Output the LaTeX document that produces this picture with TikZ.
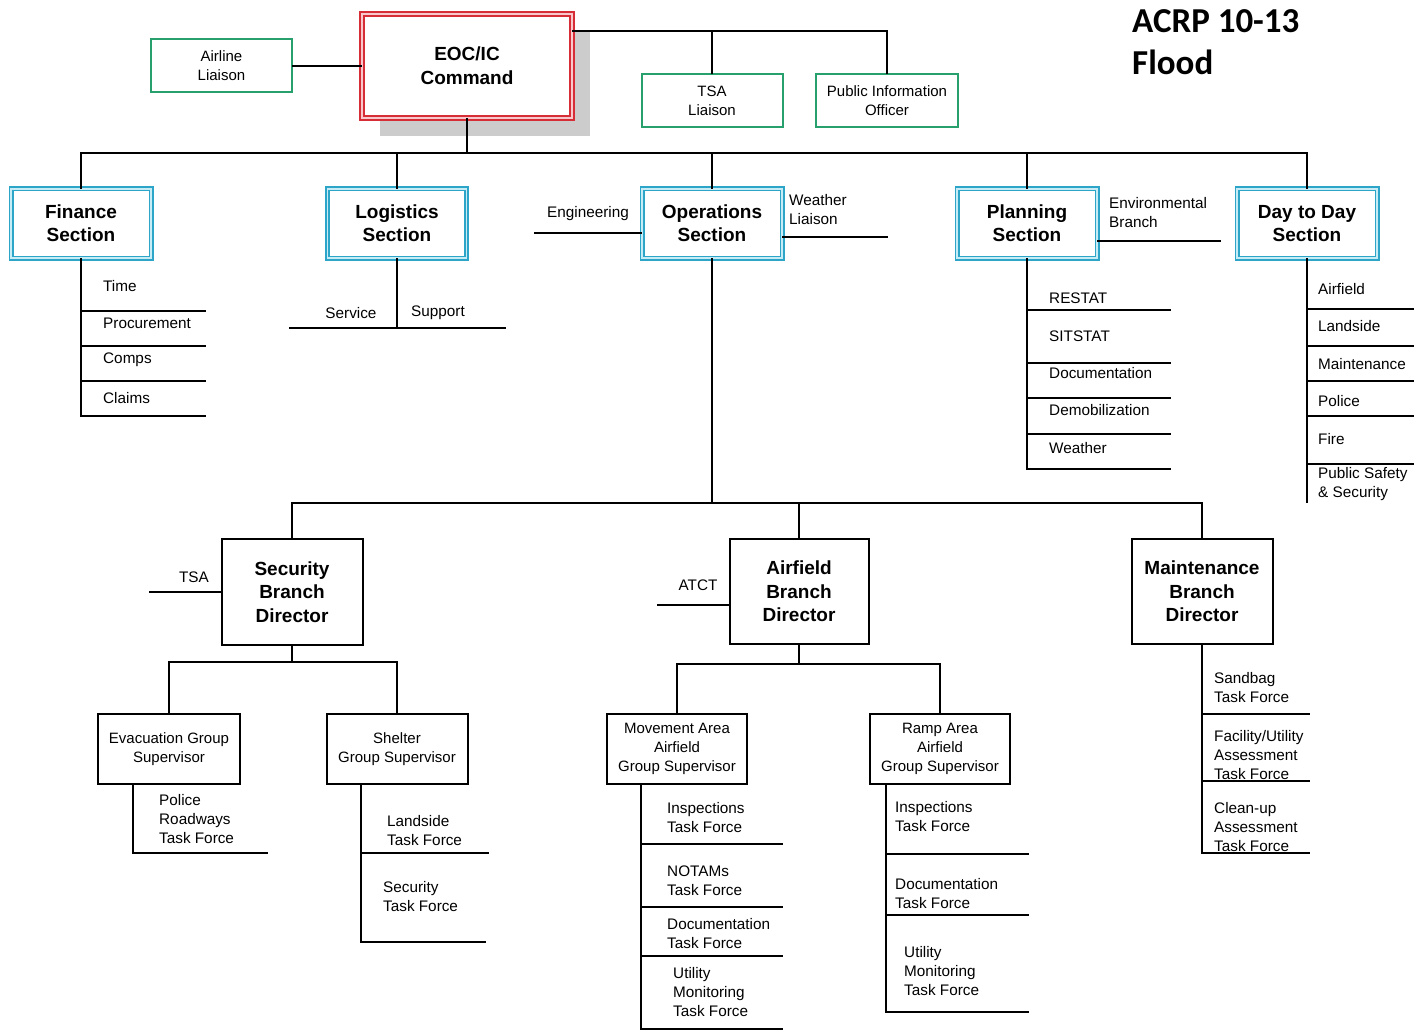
\documentclass[tikz,border=0pt]{standalone}
\usepackage{fontspec}
\setmainfont{Liberation Sans}
\newfontfamily\titlefont{Carlito}
\definecolor{secC}{RGB}{45,165,200}
\definecolor{secL}{RGB}{200,236,245}
\definecolor{redC}{RGB}{215,45,55}
\definecolor{redL}{RGB}{248,200,205}
\definecolor{grnC}{RGB}{40,160,110}
\definecolor{dropgray}{RGB}{204,204,204}
\tikzset{
  ln/.style={line width=2pt, line cap=rect},
  secbox/.style={draw=secC, double=secL, line width=1.6pt, double distance=1.8pt,
    fill=white, minimum width=140pt, minimum height=69pt, inner sep=0pt,
    align=center, font=\bfseries\fontsize{19}{23}\selectfont},
  cmdbox/.style={draw=redC, double=redL, line width=1.8pt, double distance=2pt,
    fill=white, minimum width=210pt, minimum height=104pt, inner sep=0pt,
    align=center, font=\bfseries\fontsize{19}{24}\selectfont},
  liaison/.style={draw=grnC, line width=2pt, fill=white, minimum width=141pt,
    minimum height=53pt, inner sep=0pt, align=center, font=\fontsize{15}{19}\selectfont},
  brbox/.style={draw, line width=2pt, fill=white, minimum width=141pt,
    minimum height=106pt, inner sep=0pt, align=center,
    font=\bfseries\fontsize{19}{23.5}\selectfont},
  grpbox/.style={draw, line width=2pt, fill=white, minimum width=141pt,
    minimum height=70pt, inner sep=0pt, align=center, font=\fontsize{15}{19}\selectfont},
  item/.style={anchor=west, inner sep=0pt, align=left, font=\fontsize{15.3}{19}\selectfont},
  citem/.style={item, anchor=center, align=center},
}
\begin{document}
\begin{tikzpicture}[x=1pt,y=-1pt]
\useasboundingbox (0,0) rectangle (1421,1035);

% title
\node[anchor=west, inner sep=0pt, align=left, font=\titlefont\bfseries\fontsize{35}{42}\selectfont]
  (title) at (1132,42) {ACRP 10-13\\Flood};

% command level, with its drop shadow
\fill[dropgray] (380,32) rectangle (590,136);
\node[cmdbox] (eoc) at (467,66) {EOC/IC\\Command};
\node[liaison] (air) at (221.5,66) {Airline\\Liaison};
\node[liaison] (tsa) at (712,100.5) {TSA\\Liaison};
\node[liaison, minimum width=142pt] (pio) at (887,100.5) {Public Information\\Officer};

\coordinate (topbus) at (572,31);
\coordinate (mainbus) at (467,153);

\draw[ln] (air.east) -- (air.east -| eoc.west);
\draw[ln] (eoc.east |- topbus) -- (pio.north |- topbus) -- (pio.north);
\draw[ln] (tsa.north |- topbus) -- (tsa.north);
\draw[ln] (eoc.south) -- (mainbus);

% sections
\node[secbox] (fin) at (81,223.5) {Finance\\Section};
\node[secbox, minimum width=139pt] (log) at (397,223.5) {Logistics\\Section};
\node[secbox] (ops) at (712,223.5) {Operations\\Section};
\node[secbox] (plan) at (1027,223.5) {Planning\\Section};
\node[secbox] (day) at (1307,223.5) {Day to Day\\Section};

\draw[ln] (fin.north |- mainbus) -- (day.north |- mainbus);
\foreach \s in {fin,log,ops,plan,day}
  \draw[ln] (\s.north |- mainbus) -- (\s.north);

% finance units
\node[item] (time) at (103,286) {Time};
\node[item] (proc) at (103,323) {Procurement};
\node[item] (comps) at (103,360) {Comps};
\node[item] (claims) at (103,398) {Claims};
\foreach \y [count=\i] in {311,346,381,416}
  \coordinate (fin\i) at (205,\y);
\draw[ln] (fin.south) -- (fin4 -| fin.south);
\foreach \i in {1,...,4}
  \draw[ln] (fin\i -| fin.south) -- (fin\i);

% logistics units
\node[citem] (serv) at (351,313) {Service};
\node[citem] (supp) at (438,313) {Support};
\coordinate (logL) at (290,328);
\coordinate (logR) at (505,328);
\draw[ln] (logL) -- (logR);
\draw[ln] (log.south) -- (log.south |- logL);

% operations side links
\node[citem] (eng) at (588,214) {Engineering};
\node[item] (wxl) at (789,209.5) {Weather\\Liaison};
\coordinate (engEnd) at (535,233);
\coordinate (wxEnd) at (887,237);
\draw[ln] (engEnd) -- (engEnd -| ops.west);
\draw[ln] (wxEnd -| ops.east) -- (wxEnd);

% planning units
\node[item] (env) at (1109,213) {Environmental\\Branch};
\coordinate (envEnd) at (1220,241);
\draw[ln] (envEnd -| plan.east) -- (envEnd);
\node[item] (restat) at (1049,298) {RESTAT};
\node[item] (sitstat) at (1049,336) {SITSTAT};
\node[item] (pdoc) at (1049,373) {Documentation};
\node[item] (demob) at (1049,410) {Demobilization};
\node[item] (pwx) at (1049,448) {Weather};
\foreach \y [count=\i] in {310,363,398,434,469}
  \coordinate (pl\i) at (1170,\y);
\draw[ln] (plan.south) -- (pl5 -| plan.south);
\foreach \i in {1,...,5}
  \draw[ln] (pl\i -| plan.south) -- (pl\i);

% day to day units
\node[item] (dair) at (1318,289) {Airfield};
\node[item] (dland) at (1318,326) {Landside};
\node[item] (dmaint) at (1318,364) {Maintenance};
\node[item] (dpol) at (1318,401) {Police};
\node[item] (dfire) at (1318,439) {Fire};
\node[item] (dpss) at (1318,484) {Public Safety\\\& Security};
\foreach \y [count=\i] in {309,346,381,416,464}
  \coordinate (dd\i) at (1413,\y);
\coordinate (dayEnd) at (1307,502);
\draw[ln] (day.south) -- (dayEnd);
\foreach \i in {1,...,5}
  \draw[ln] (dd\i -| day.south) -- (dd\i);

% branches
\node[brbox] (secb) at (292,592) {Security\\Branch\\Director};
\node[brbox, minimum width=139pt, minimum height=105pt] (afb) at (799,591.5) {Airfield\\Branch\\Director};
\node[brbox, minimum height=105pt] (mntb) at (1202,591.5) {Maintenance\\Branch\\Director};

\coordinate (brbus) at (712,503);
\draw[ln] (ops.south) -- (brbus);
\draw[ln] (secb.north |- brbus) -- (mntb.north |- brbus);
\foreach \s in {secb,afb,mntb}
  \draw[ln] (\s.north |- brbus) -- (\s.north);

% security branch
\node[citem] (tsalbl) at (194,577) {TSA};
\coordinate (tsaEnd) at (150,592);
\draw[ln] (tsaEnd) -- (tsaEnd -| secb.west);

\node[grpbox, minimum width=142pt] (evac) at (169,749) {Evacuation Group\\Supervisor};
\node[grpbox] (shel) at (397,749) {Shelter\\Group Supervisor};
\coordinate (secbus) at (292,662);
\draw[ln] (secb.south) -- (secbus);
\draw[ln] (evac.north |- secbus) -- (shel.north |- secbus);
\draw[ln] (evac.north |- secbus) -- (evac.north);
\draw[ln] (shel.north |- secbus) -- (shel.north);

\node[item] (prtf) at (159,819) {Police\\Roadways\\Task Force};
\coordinate (evv) at ([xshift=36pt]evac.south west);
\coordinate (ev1) at (267,853);
\draw[ln] (evv) |- (ev1);

\node[item] (lstf) at (387,831) {Landside\\Task Force};
\node[item] (sctf) at (383,896.5) {Security\\Task Force};
\coordinate (shv) at ([xshift=35.5pt]shel.south west);
\coordinate (sh1) at (488,853);
\coordinate (sh2) at (485,942);
\draw[ln] (shv) |- (sh2);
\draw[ln] (sh1 -| shv) -- (sh1);

% airfield branch
\node[citem] (atct) at (698,585) {ATCT};
\coordinate (atEnd) at (658,605);
\draw[ln] (atEnd) -- (atEnd -| afb.west);

\node[grpbox, minimum width=140pt] (mov) at (677,749) {Movement Area\\Airfield\\Group Supervisor};
\node[grpbox, minimum width=140pt] (ramp) at (940,749) {Ramp Area\\Airfield\\Group Supervisor};
\coordinate (afbus) at (799,664);
\draw[ln] (afb.south) -- (afb.south |- afbus);
\draw[ln] (mov.north |- afbus) -- (ramp.north |- afbus);
\draw[ln] (mov.north |- afbus) -- (mov.north);
\draw[ln] (ramp.north |- afbus) -- (ramp.north);

\node[item] (minsp) at (667,817.5) {Inspections\\Task Force};
\node[item] (mnot) at (667,880.5) {NOTAMs\\Task Force};
\node[item] (mdoc) at (667,933.5) {Documentation\\Task Force};
\node[item] (mutil) at (673,992.5) {Utility\\Monitoring\\Task Force};
\coordinate (mvv) at ([xshift=35pt]mov.south west);
\foreach \y [count=\i] in {844,907,956,1029}
  \coordinate (mv\i) at (782,\y);
\draw[ln] (mvv) -- (mv4 -| mvv);
\foreach \i in {1,...,4}
  \draw[ln] (mv\i -| mvv) -- (mv\i);

\node[item] (rinsp) at (895,816.5) {Inspections\\Task Force};
\node[item] (rdoc) at (895,893.5) {Documentation\\Task Force};
\node[item] (rutil) at (904,971) {Utility\\Monitoring\\Task Force};
\coordinate (rpv) at ([xshift=17pt]ramp.south west);
\foreach \y [count=\i] in {854,915,1012}
  \coordinate (rp\i) at (1028,\y);
\draw[ln] (rpv) -- (rp3 -| rpv);
\foreach \i in {1,...,3}
  \draw[ln] (rp\i -| rpv) -- (rp\i);

% maintenance branch
\node[item] (sand) at (1214,687.5) {Sandbag\\Task Force};
\node[item] (facil) at (1214,755.5) {Facility/Utility\\Assessment\\Task Force};
\node[item] (clean) at (1214,827) {Clean-up\\Assessment\\Task Force};
\foreach \y [count=\i] in {714,781,853}
  \coordinate (mt\i) at (1309,\y);
\draw[ln] (mntb.south) -- (mt3 -| mntb.south);
\foreach \i in {1,...,3}
  \draw[ln] (mt\i -| mntb.south) -- (mt\i);
\end{tikzpicture}
\end{document}
